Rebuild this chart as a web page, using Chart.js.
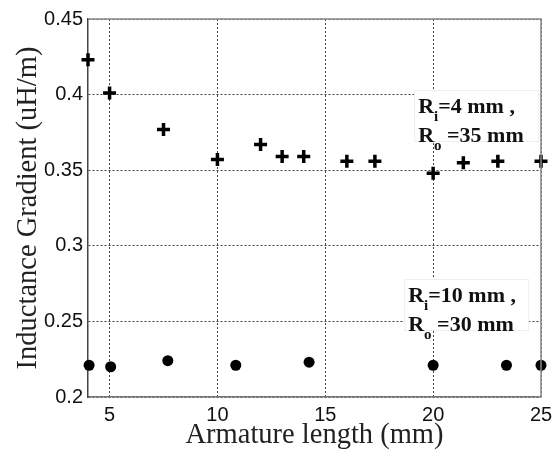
<!DOCTYPE html>
<html>
<head>
<meta charset="utf-8">
<script src="https://cdn.jsdelivr.net/npm/chart.js@4"></script>
<style>
  html, body { margin: 0; padding: 0; background: #fff; }
  #wrap { width: 553px; height: 453px; }
</style>
</head>
<body>
<div id="wrap"><canvas id="c"></canvas></div>
<script>
// armature length (mm) and inductance gradient (uH/m)
const ri4X = [4, 5, 7.5, 10, 12, 13, 14, 16, 17.3, 20, 21.4, 23, 25];
const ri4Y = [0.423, 0.401, 0.377, 0.357, 0.367, 0.359, 0.359, 0.356, 0.356, 0.348, 0.355, 0.356, 0.356];
const ri10X = [4.05, 5.05, 7.7, 10.85, 14.25, 20, 23.4, 25];
const ri10Y = [0.221, 0.220, 0.224, 0.221, 0.223, 0.221, 0.221, 0.221];
const xTicks = [5, 10, 15, 20, 25];
const yTicks = [0.2, 0.25, 0.3, 0.35, 0.4, 0.45];

const TICK_FONT = "'Liberation Sans', Arial, sans-serif";
const SERIF = "'Liberation Serif', 'Times New Roman', serif";

const toPts = (xs, ys) => xs.map((x, i) => ({ x, y: ys[i] }));

// white boxes with R_i / R_o labels, placed in data units
const notes = [
  { x: 19.12, y: 0.403, lines: [['R', 'i', '=4 mm ,'], ['R', 'o', ' =35 mm']] },
  { x: 18.66, y: 0.278, lines: [['R', 'i', '=10 mm ,'], ['R', 'o', ' =30 mm']] },
];

const frameAndNotes = {
  id: 'frameAndNotes',
  afterDatasetsDraw(chart) {
    const { ctx, chartArea: a, scales } = chart;
    ctx.save();
    ctx.strokeStyle = '#888';
    ctx.lineWidth = 1.5;
    ctx.beginPath();
    ctx.moveTo(a.left, a.top); ctx.lineTo(a.right, a.top); ctx.lineTo(a.right, a.bottom);
    ctx.stroke();

    notes.forEach(n => {
      const bx = scales.x.getPixelForValue(n.x);
      const by = scales.y.getPixelForValue(n.y);
      const w = 124, h = 51;
      ctx.fillStyle = '#fff';
      ctx.fillRect(bx, by, w, h);
      ctx.strokeStyle = '#eee';
      ctx.lineWidth = 1;
      ctx.strokeRect(bx + 0.5, by + 0.5, w, h);
      ctx.fillStyle = '#111';
      ctx.textBaseline = 'alphabetic';
      n.lines.forEach((ln, i) => {
        const base = by + 23 + i * 29;
        let cx = bx + 4;
        ctx.font = 'bold 22px ' + SERIF;
        ctx.fillText(ln[0], cx, base);
        cx += ctx.measureText(ln[0]).width;
        ctx.font = 'bold 15px ' + SERIF;
        ctx.fillText(ln[1], cx, base + 8);
        cx += ctx.measureText(ln[1]).width;
        ctx.font = 'bold 22px ' + SERIF;
        ctx.fillText(ln[2], cx, base);
      });
    });
    ctx.restore();
  }
};

new Chart(document.getElementById('c'), {
  type: 'scatter',
  data: {
    datasets: [
      {
        label: 'Ri=4 mm, Ro=35 mm',
        data: toPts(ri4X, ri4Y),
        pointStyle: 'cross',
        pointRadius: 6.5,
        borderWidth: 3.5,
        borderColor: '#000',
        backgroundColor: '#000',
        clip: false,
      },
      {
        label: 'Ri=10 mm, Ro=30 mm',
        data: toPts(ri10X, ri10Y),
        pointStyle: 'circle',
        pointRadius: 5.5,
        borderWidth: 0,
        borderColor: '#000',
        backgroundColor: '#000',
        clip: false,
      },
    ]
  },
  options: {
    responsive: true,
    maintainAspectRatio: false,
    animation: false,
    layout: { padding: { top: 19, right: 12, left: 0, bottom: 0 } },
    plugins: { legend: { display: false }, tooltip: { enabled: false } },
    scales: {
      x: {
        type: 'linear',
        min: 4, max: 25,
        afterBuildTicks: s => { s.ticks = xTicks.map(v => ({ value: v })); },
        afterFit: s => { s.height = 56; s.paddingLeft = 0; s.paddingRight = 0; },
        grid: { color: '#444', lineWidth: 1, drawTicks: false },
        border: { display: true, color: '#777', width: 1.5, dash: [2, 2] },
        ticks: { color: '#111', font: { family: TICK_FONT, size: 20 }, padding: 6, maxRotation: 0 },
        title: { display: true, text: 'Armature length (mm)', color: '#222',
                 font: { family: SERIF, size: 28.5 }, padding: { top: 0, bottom: 0 } },
      },
      y: {
        type: 'linear',
        min: 0.2, max: 0.45,
        afterBuildTicks: s => { s.ticks = yTicks.map(v => ({ value: v })); },
        afterFit: s => { s.width = 88; s.paddingTop = 0; s.paddingBottom = 0; },
        grid: { color: '#444', lineWidth: 1, drawTicks: false },
        border: { display: true, color: '#444', width: 1.5, dash: [2, 2] },
        ticks: { color: '#111', font: { family: TICK_FONT, size: 20 }, padding: 5,
                 callback: v => String(Math.round(v * 100) / 100) },
        title: { display: true, text: 'Inductance Gradient (uH/m)', color: '#222',
                 font: { family: SERIF, size: 28.5 }, padding: { top: 11, bottom: 0 } },
      }
    }
  },
  plugins: [frameAndNotes]
});
</script>
</body>
</html>
